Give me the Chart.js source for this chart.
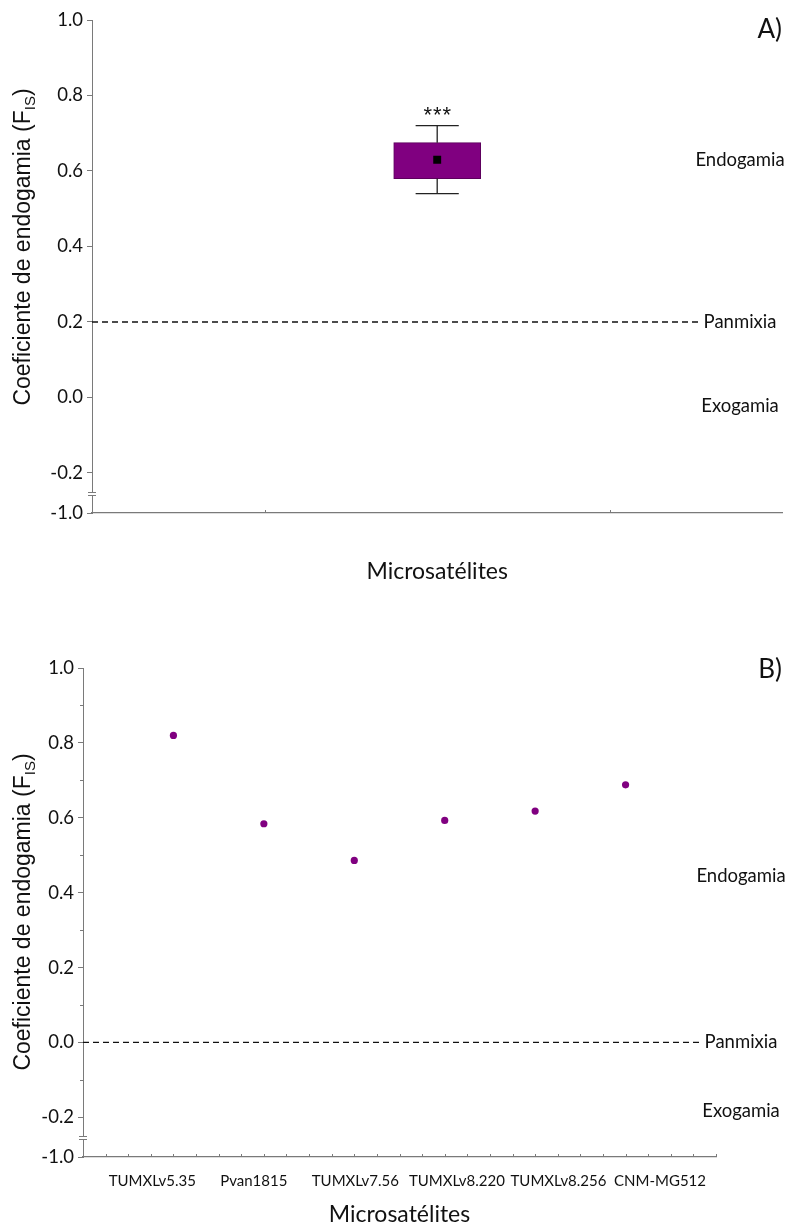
<!DOCTYPE html>
<html>
<head>
<meta charset="utf-8">
<title>Coeficiente de endogamia (FIS)</title>
<script src="https://cdn.jsdelivr.net/npm/chart.js@4.4.1/dist/chart.umd.min.js"></script>
<style>
  html, body { margin: 0; padding: 0; background: #ffffff; }
  #wrap { position: relative; width: 788px; height: 1228px; overflow: hidden; }
  canvas { position: absolute; left: 0; }
  #fisA { top: 0; }
  #fisB { top: 620px; }
</style>
</head>
<body>
<div id="wrap">
  <canvas id="fisA" width="788" height="600"></canvas>
  <canvas id="fisB" width="788" height="608"></canvas>
</div>
<script>
// ---- data -------------------------------------------------------------
// Y axis: regular ticks plus the compressed bottom of the axis (labelled -1.0)
const yTickValues = [-0.2, 0.0, 0.2, 0.4, 0.6, 0.8, 1.0];
const yMinorTicks = [-0.1, 0.1, 0.3, 0.5, 0.7, 0.9];
const yBreakLabel = '-1.0';

// Panel A: FIS summary over all loci
const whiskerLow  = [0.54];
const boxLow      = [0.58];
const boxHigh     = [0.675];
const whiskerHigh = [0.72];
const meanFis     = [0.63];
const significance = ['***'];

// Panel B: FIS per locus
const loci = ['TUMXLv5.35', 'Pvan1815', 'TUMXLv7.56', 'TUMXLv8.220', 'TUMXLv8.256', 'CNM-MG512'];
const fisByLocus = [0.82, 0.584, 0.486, 0.593, 0.618, 0.688];

// Reference level and zone names
const zoneLabels = ['Endogamia', 'Panmixia', 'Exogamia'];
const panmixiaA = [0.2];
const panmixiaB = [0.0];

// ---- layout / style ---------------------------------------------------
const Y_MIN = -0.306;          // bottom of the compressed axis
const BREAK_HI = -0.25, BREAK_LO = -0.258;
const BOX_SLOT = 2;            // panel A x position of the box (axis 0..4)
const CAP_HALF = 0.125;
const PURPLE = '#800080';
const AXIS = '#7a7a7a';
const TEXT = '#111111';
const SANS = 'Lato, "Open Sans", sans-serif';
const ARIAL = '"Liberation Sans", Arial, sans-serif';

Chart.defaults.font.family = SANS;
Chart.defaults.color = TEXT;

function yScale(width) {
  return {
    type: 'linear',
    min: Y_MIN,
    max: 1.0,
    afterBuildTicks(s) {
      s.ticks = [Y_MIN].concat(yTickValues).map(v => ({ value: v }));
    },
    afterFit(s) { s.width = width; },
    ticks: {
      font: { size: 18.5 },
      color: TEXT,
      padding: 4,
      callback: v => (v === Y_MIN ? yBreakLabel : v.toFixed(1))
    },
    grid: { drawOnChartArea: false, drawTicks: true, tickLength: 5, color: AXIS },
    border: { color: AXIS, width: 1 }
  };
}

// Annotation layer: axis break, reference line, zone names, titles, inside ticks
function decor(o) {
  return {
    id: 'decor',
    afterDraw(chart) {
      const { ctx, chartArea: ca, scales } = chart;
      const x = scales.x, y = scales.y;
      ctx.save();

      // inside tick marks on the x axis
      ctx.strokeStyle = AXIS; ctx.lineWidth = 1;
      o.xInsideTicks.forEach(v => {
        const px = Math.round(x.getPixelForValue(v)) + 0.5;
        ctx.beginPath(); ctx.moveTo(px, ca.bottom); ctx.lineTo(px, ca.bottom - 3); ctx.stroke();
      });
      // minor y ticks
      (o.yMinor || []).forEach(v => {
        const py = Math.round(y.getPixelForValue(v)) + 0.5;
        ctx.beginPath(); ctx.moveTo(ca.left - 3, py); ctx.lineTo(ca.left, py); ctx.stroke();
      });

      // axis break
      const b1 = Math.round(y.getPixelForValue(BREAK_HI)) + 0.5;
      const b2 = Math.round(y.getPixelForValue(BREAK_LO)) + 0.5;
      ctx.fillStyle = '#ffffff';
      ctx.fillRect(ca.left - 2, b1, 4, b2 - b1);
      ctx.strokeStyle = AXIS;
      [b1, b2].forEach(py => {
        ctx.beginPath(); ctx.moveTo(ca.left - 4, py); ctx.lineTo(ca.left + 4, py); ctx.stroke();
      });

      // zone names
      ctx.fillStyle = TEXT;
      ctx.font = '18.5px ' + SANS;
      ctx.textAlign = 'center';
      ctx.textBaseline = 'middle';
      const cx = o.zoneX;
      const yPan = y.getPixelForValue(o.panmixia);
      ctx.fillText(zoneLabels[0], cx, y.getPixelForValue(o.endoAt));
      ctx.fillText(zoneLabels[1], cx, yPan);
      ctx.fillText(zoneLabels[2], cx, y.getPixelForValue(o.exoAt));

      // panmixia reference line
      const panW = ctx.measureText(zoneLabels[1]).width;
      ctx.strokeStyle = '#111111';
      ctx.lineWidth = 1.3;
      ctx.setLineDash([6, 4]);
      ctx.beginPath();
      ctx.moveTo(ca.left, yPan);
      ctx.lineTo(cx - panW / 2 - 5, yPan);
      ctx.stroke();
      ctx.setLineDash([]);

      // panel letter
      ctx.font = '26px ' + SANS;
      ctx.textAlign = 'right';
      ctx.fillText(o.letter, 782, o.letterY);

      // x axis title
      ctx.font = '23px ' + SANS;
      ctx.textAlign = 'center';
      ctx.fillText('Microsatélites', (ca.left + ca.right) / 2, o.xTitleY);

      // y axis title with subscript
      const main = 'Coeficiente de endogamia (F', sub = 'IS', close = ')';
      ctx.font = '23px ' + ARIAL;
      const wMain = ctx.measureText(main).width, wClose = ctx.measureText(close).width;
      ctx.font = '15px ' + ARIAL;
      const wSub = ctx.measureText(sub).width;
      const total = wMain + wSub + wClose;
      ctx.translate(o.yTitleX, o.yTitleY);
      ctx.rotate(-Math.PI / 2);
      ctx.textAlign = 'left';
      ctx.textBaseline = 'alphabetic';
      let tx = -total / 2;
      ctx.font = '23px ' + ARIAL;
      ctx.fillText(main, tx, 8); tx += wMain;
      ctx.font = '15px ' + ARIAL;
      ctx.fillText(sub, tx, 13); tx += wSub;
      ctx.font = '23px ' + ARIAL;
      ctx.fillText(close, tx, 8);
      ctx.restore();

      // significance marks above the whisker
      if (o.stars) {
        ctx.save();
        ctx.fillStyle = TEXT;
        ctx.font = '22px ' + ARIAL;
        ctx.textAlign = 'center';
        ctx.textBaseline = 'middle';
        const sx = x.getPixelForValue(BOX_SLOT), sy = y.getPixelForValue(whiskerHigh[0]) - 10;
        const marks = significance[0].split('');
        marks.forEach((m, i) => ctx.fillText(m, sx + (i - (marks.length - 1) / 2) * 9.5, sy));
        ctx.restore();
      }
    }
  };
}

function segment(x1, y1, x2, y2) {
  return {
    type: 'line',
    data: [{ x: x1, y: y1 }, { x: x2, y: y2 }],
    borderColor: '#222222',
    borderWidth: 1.3,
    pointRadius: 0,
    order: 1
  };
}

// ---- panel A ----------------------------------------------------------
new Chart(document.getElementById('fisA'), {
  type: 'bar',
  data: {
    datasets: [
      {
        type: 'bar',
        data: [{ x: BOX_SLOT, y: [boxLow[0], boxHigh[0]] }],
        backgroundColor: PURPLE,
        borderColor: '#5c005c',
        borderWidth: 1,
        borderSkipped: false,
        barThickness: 87,
        order: 2
      },
      segment(BOX_SLOT, whiskerLow[0], BOX_SLOT, boxLow[0]),
      segment(BOX_SLOT, boxHigh[0], BOX_SLOT, whiskerHigh[0]),
      segment(BOX_SLOT - CAP_HALF, whiskerLow[0], BOX_SLOT + CAP_HALF, whiskerLow[0]),
      segment(BOX_SLOT - CAP_HALF, whiskerHigh[0], BOX_SLOT + CAP_HALF, whiskerHigh[0]),
      {
        type: 'line',
        data: [{ x: BOX_SLOT, y: meanFis[0] }],
        showLine: false,
        pointStyle: 'rect',
        pointRadius: 5.6,
        pointBackgroundColor: '#000000',
        pointBorderWidth: 0,
        order: 0
      }
    ]
  },
  options: {
    responsive: false,
    animation: false,
    devicePixelRatio: 1,
    layout: { padding: { top: 20, right: 0, bottom: 0, left: 0 } },
    plugins: { legend: { display: false }, tooltip: { enabled: false } },
    scales: {
      x: {
        type: 'linear',
        offset: false,
        min: 0,
        max: 4,
        afterFit(s) { s.height = 87; },
        ticks: { display: false },
        grid: { display: false, offset: false },
        border: { color: AXIS, width: 1.2 }
      },
      y: yScale(92)
    }
  },
  plugins: [decor({
    xInsideTicks: [1, 3],
    panmixia: panmixiaA[0],
    endoAt: 0.629,
    exoAt: -0.023,
    zoneX: 740,
    letter: 'A)',
    letterY: 30,
    xTitleY: 572,
    yTitleX: 22,
    yTitleY: 247,
    stars: true
  })]
});

// ---- panel B ----------------------------------------------------------
new Chart(document.getElementById('fisB'), {
  type: 'scatter',
  data: {
    datasets: [{
      data: fisByLocus.map((v, i) => ({ x: i + 1, y: v })),
      pointRadius: 3.6,
      pointBackgroundColor: PURPLE,
      pointBorderWidth: 0
    }]
  },
  options: {
    responsive: false,
    animation: false,
    devicePixelRatio: 1,
    layout: { padding: { top: 48, right: 72, bottom: 0, left: 0 } },
    plugins: { legend: { display: false }, tooltip: { enabled: false } },
    scales: {
      x: {
        type: 'linear',
        position: 'bottom',
        weight: 0,
        min: 0,
        max: loci.length + 1,
        afterFit(s) { s.height = 1; },
        ticks: { display: false },
        grid: { display: false },
        border: { color: AXIS, width: 1.2 }
      },
      xl: {
        type: 'linear',
        position: 'bottom',
        weight: 1,
        min: 0.318,
        max: 6.551,
        afterBuildTicks(s) { s.ticks = loci.map((_, i) => ({ value: i + 1 })); },
        afterFit(s) { s.height = 70; },
        ticks: {
          autoSkip: false,
          maxRotation: 0,
          padding: 14,
          font: { size: 15 },
          color: TEXT,
          callback: (v, i) => loci[i]
        },
        grid: { display: false, drawTicks: false },
        border: { display: false }
      },
      y: yScale(83)
    }
  },
  plugins: [decor({
    xInsideTicks: Array.from({ length: (loci.length + 1) * 4 }, (_, i) => (i + 1) / 4),
    yMinor: yMinorTicks,
    panmixia: panmixiaB[0],
    endoAt: 0.444,
    exoAt: -0.184,
    zoneX: 741,
    letter: 'B)',
    letterY: 50,
    xTitleY: 595,
    yTitleX: 22,
    yTitleY: 292,
    stars: false
  })]
});
</script>
</body>
</html>
